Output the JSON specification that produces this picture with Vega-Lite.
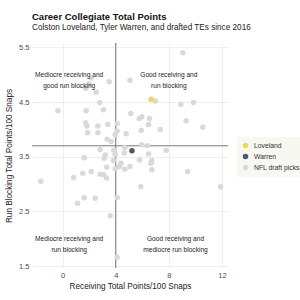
{
  "$schema": "https://vega.github.io/schema/vega-lite/v6.json",
  "autosize": "none",
  "width": 196,
  "height": 225,
  "padding": {"left": 32, "top": 43, "right": 72, "bottom": 32},
  "background": "white",
  "config": {
    "font": "Liberation Sans",
    "view": {"stroke": null},
    "axis": {"grid": true, "gridColor": "#ebebeb", "gridWidth": 0.8, "domain": false, "ticks": false, "labelFont": "Liberation Sans", "labelFontSize": 7.5, "labelColor": "#4d4d4d", "titleFont": "Liberation Sans", "titleFontSize": 8.2, "titleFontWeight": "normal", "titleColor": "#222222"}
  },
  "title": {
    "text": "Career Collegiate Total Points",
    "subtitle": "Colston Loveland, Tyler Warren, and drafted TEs since 2016",
    "anchor": "start",
    "frame": "group",
    "font": "Liberation Sans",
    "fontSize": 9.5,
    "fontWeight": "bold",
    "color": "#111111",
    "subtitleFont": "Liberation Sans",
    "subtitleFontSize": 8.2,
    "subtitleColor": "#222222",
    "subtitlePadding": 3,
    "offset": 11
  },
  "datasets": {
    "pts": [
      {"rec": 9.05, "blk": 5.40, "group": "NFL draft picks"},
      {"rec": 3.51, "blk": 4.87, "group": "NFL draft picks"},
      {"rec": 5.07, "blk": 4.90, "group": "NFL draft picks"},
      {"rec": 2.16, "blk": 4.94, "group": "NFL draft picks"},
      {"rec": 2.01, "blk": 4.83, "group": "NFL draft picks"},
      {"rec": 1.74, "blk": 4.75, "group": "NFL draft picks"},
      {"rec": 2.53, "blk": 4.68, "group": "NFL draft picks"},
      {"rec": 2.80, "blk": 4.49, "group": "NFL draft picks"},
      {"rec": -0.35, "blk": 4.34, "group": "NFL draft picks"},
      {"rec": 1.78, "blk": 4.34, "group": "NFL draft picks"},
      {"rec": 3.08, "blk": 4.36, "group": "NFL draft picks"},
      {"rec": 6.97, "blk": 4.52, "group": "NFL draft picks"},
      {"rec": 8.90, "blk": 4.46, "group": "NFL draft picks"},
      {"rec": 9.85, "blk": 4.49, "group": "NFL draft picks"},
      {"rec": 5.14, "blk": 4.29, "group": "NFL draft picks"},
      {"rec": 5.97, "blk": 4.23, "group": "NFL draft picks"},
      {"rec": 5.77, "blk": 4.20, "group": "NFL draft picks"},
      {"rec": 6.54, "blk": 4.20, "group": "NFL draft picks"},
      {"rec": 9.30, "blk": 4.16, "group": "NFL draft picks"},
      {"rec": 1.74, "blk": 4.12, "group": "NFL draft picks"},
      {"rec": 1.82, "blk": 4.06, "group": "NFL draft picks"},
      {"rec": 2.65, "blk": 4.06, "group": "NFL draft picks"},
      {"rec": 3.40, "blk": 4.09, "group": "NFL draft picks"},
      {"rec": 4.11, "blk": 4.11, "group": "NFL draft picks"},
      {"rec": 6.47, "blk": 4.09, "group": "NFL draft picks"},
      {"rec": 10.56, "blk": 4.04, "group": "NFL draft picks"},
      {"rec": 7.35, "blk": 4.00, "group": "NFL draft picks"},
      {"rec": 5.92, "blk": 3.98, "group": "NFL draft picks"},
      {"rec": 4.11, "blk": 3.97, "group": "NFL draft picks"},
      {"rec": 1.88, "blk": 3.94, "group": "NFL draft picks"},
      {"rec": 2.66, "blk": 3.94, "group": "NFL draft picks"},
      {"rec": 4.79, "blk": 3.92, "group": "NFL draft picks"},
      {"rec": 3.96, "blk": 3.90, "group": "NFL draft picks"},
      {"rec": 3.36, "blk": 3.82, "group": "NFL draft picks"},
      {"rec": 3.66, "blk": 3.78, "group": "NFL draft picks"},
      {"rec": 5.95, "blk": 3.72, "group": "NFL draft picks"},
      {"rec": 6.37, "blk": 3.70, "group": "NFL draft picks"},
      {"rec": 4.68, "blk": 3.67, "group": "NFL draft picks"},
      {"rec": 7.80, "blk": 3.62, "group": "NFL draft picks"},
      {"rec": 4.64, "blk": 3.57, "group": "NFL draft picks"},
      {"rec": 2.83, "blk": 3.63, "group": "NFL draft picks"},
      {"rec": 3.85, "blk": 3.62, "group": "NFL draft picks"},
      {"rec": 3.96, "blk": 3.54, "group": "NFL draft picks"},
      {"rec": 6.47, "blk": 3.55, "group": "NFL draft picks"},
      {"rec": 1.63, "blk": 3.48, "group": "NFL draft picks"},
      {"rec": 3.21, "blk": 3.53, "group": "NFL draft picks"},
      {"rec": 3.14, "blk": 3.47, "group": "NFL draft picks"},
      {"rec": 3.83, "blk": 3.43, "group": "NFL draft picks"},
      {"rec": 5.79, "blk": 3.44, "group": "NFL draft picks"},
      {"rec": 6.72, "blk": 3.43, "group": "NFL draft picks"},
      {"rec": 6.65, "blk": 3.38, "group": "NFL draft picks"},
      {"rec": 4.39, "blk": 3.38, "group": "NFL draft picks"},
      {"rec": 3.32, "blk": 3.31, "group": "NFL draft picks"},
      {"rec": 3.96, "blk": 3.28, "group": "NFL draft picks"},
      {"rec": 4.29, "blk": 3.32, "group": "NFL draft picks"},
      {"rec": 4.68, "blk": 3.27, "group": "NFL draft picks"},
      {"rec": 5.07, "blk": 3.32, "group": "NFL draft picks"},
      {"rec": 6.72, "blk": 3.26, "group": "NFL draft picks"},
      {"rec": 9.41, "blk": 3.23, "group": "NFL draft picks"},
      {"rec": 2.16, "blk": 3.23, "group": "NFL draft picks"},
      {"rec": 1.52, "blk": 3.20, "group": "NFL draft picks"},
      {"rec": 0.83, "blk": 3.12, "group": "NFL draft picks"},
      {"rec": 2.83, "blk": 3.18, "group": "NFL draft picks"},
      {"rec": 3.10, "blk": 3.17, "group": "NFL draft picks"},
      {"rec": 3.31, "blk": 3.11, "group": "NFL draft picks"},
      {"rec": -1.64, "blk": 3.05, "group": "NFL draft picks"},
      {"rec": 5.89, "blk": 2.95, "group": "NFL draft picks"},
      {"rec": 11.89, "blk": 2.95, "group": "NFL draft picks"},
      {"rec": 1.13, "blk": 2.65, "group": "NFL draft picks"},
      {"rec": 1.63, "blk": 2.75, "group": "NFL draft picks"},
      {"rec": 2.46, "blk": 2.74, "group": "NFL draft picks"},
      {"rec": 4.11, "blk": 2.75, "group": "NFL draft picks"},
      {"rec": 3.59, "blk": 2.42, "group": "NFL draft picks"},
      {"rec": 4.11, "blk": 1.66, "group": "NFL draft picks"},
      {"rec": 5.22, "blk": 3.61, "group": "Warren"},
      {"rec": 6.67, "blk": 4.55, "group": "Loveland"}
    ],
    "labels": [
      {"x": 0.5, "y": 5.0, "lab": ["Mediocre receiving and", "good run blocking"]},
      {"x": 8.0, "y": 5.0, "lab": ["Good receiving and", "run blocking"]},
      {"x": 0.5, "y": 2.0, "lab": ["Mediocre receiving and", "run blocking"]},
      {"x": 8.5, "y": 2.0, "lab": ["Good receiving and", "mediocre run blocking"]}
    ],
    "refx": [{"v": 4.0}],
    "refy": [{"v": 3.7}]
  },
  "layer": [
    {
      "data": {"name": "refx"},
      "mark": {"type": "rule", "color": "#7a7a7a", "strokeWidth": 1},
      "encoding": {"x": {"field": "v", "type": "quantitative"}}
    },
    {
      "data": {"name": "refy"},
      "mark": {"type": "rule", "color": "#7a7a7a", "strokeWidth": 1},
      "encoding": {"y": {"field": "v", "type": "quantitative"}}
    },
    {
      "data": {"name": "pts"},
      "mark": {"type": "point", "filled": true, "size": 30, "strokeWidth": 0},
      "encoding": {
        "x": {"field": "rec", "type": "quantitative", "scale": {"domain": [-2.3, 12.45], "nice": false, "zero": false}, "axis": {"values": [0, 4, 8, 12], "title": "Receiving Total Points/100 Snaps", "labelPadding": 3, "titlePadding": 4}},
        "y": {"field": "blk", "type": "quantitative", "scale": {"domain": [1.465, 5.58], "nice": false, "zero": false}, "axis": {"values": [1.5, 2.5, 3.5, 4.5, 5.5], "format": ".1f", "title": "Run Blocking Total Points/100 Snaps", "labelPadding": 3, "titlePadding": 5}},
        "color": {"field": "group", "type": "nominal", "scale": {"domain": ["Loveland", "Warren", "NFL draft picks"], "range": ["#f2d65c", "#4a5970", "#d9d9d9"]},
          "legend": {"title": null, "orient": "none", "legendX": 205, "legendY": 94, "fillColor": "#f8f8f2", "padding": 5, "labelFont": "Liberation Sans", "labelFontSize": 6.8, "labelColor": "#333333", "symbolType": "circle", "symbolSize": 30, "rowPadding": 3, "labelOffset": 5}},
        "opacity": {"field": "group", "type": "nominal", "scale": {"domain": ["Loveland", "Warren", "NFL draft picks"], "range": [1, 1, 0.75]}, "legend": null}
      }
    },
    {
      "data": {"name": "labels"},
      "mark": {"type": "text", "font": "Liberation Sans", "fontSize": 6.6, "color": "#222222", "align": "center", "baseline": "middle", "lineHeight": 11},
      "encoding": {
        "x": {"field": "x", "type": "quantitative"},
        "y": {"field": "y", "type": "quantitative"},
        "text": {"field": "lab"}
      }
    }
  ]
}
